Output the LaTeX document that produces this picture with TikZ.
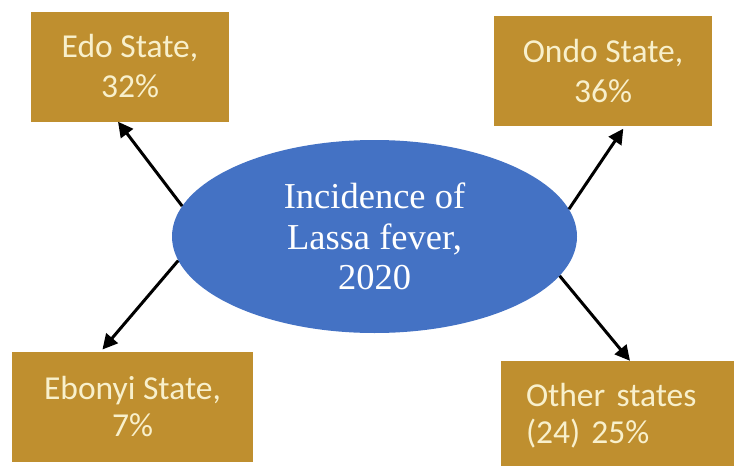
\documentclass[tikz,border=0pt]{standalone}
\usepackage{fontspec}
\setmainfont{Carlito}
\newfontfamily\ellfont{Liberation Serif}
\usetikzlibrary{arrows.meta,shapes.geometric,positioning}
\definecolor{boxgold}{HTML}{BF8F2F}
\definecolor{boxtext}{HTML}{F8F0CC}
\definecolor{ellblue}{HTML}{4472C4}

\begin{document}
\begin{tikzpicture}[x=1pt,y=-1pt,
  state/.style={rectangle,fill=boxgold,text=boxtext,align=center,inner sep=0pt,
    minimum width=#1,minimum height=110pt,font=\fontsize{33.5}{40}\selectfont},
  hub/.style={ellipse,fill=ellblue,text=white,align=center,inner sep=0pt,
    minimum width=405pt,minimum height=193pt,font=\ellfont\fontsize{36.5}{40.5}\selectfont},
  arr/.style={-{Triangle[length=15pt,width=15pt]},line width=3pt,black}]
 \useasboundingbox (0,0) rectangle (734,466);
 \clip (0,0) rectangle (734,466);
 % ---- centre ----
 \node[hub,text depth=0pt] (L) at (374.5,236.5) {Incidence of\\Lassa fever,\\2020};
 % ---- states ----
 \node[state=198pt] (edo) at (130,66.5) {Edo State,\\32\%};
 \node[state=218pt] (ondo) at (603,71) {Ondo State,\\36\%};
 \node[state=241pt,font=\fontsize{33.5}{37}\selectfont] (ebo) at (132.5,407) {Ebonyi State,\\7\%};
 \node[state=240pt,align=left,text width=190pt,inner xsep=25pt,font=\fontsize{33.5}{37}\selectfont]
   (oth) at (621,416) {Other states\\(24) 25\%};
 % ---- arrows ----
 \draw[arr] (L.171.5) -- ([xshift=-12pt]edo.south);
 \draw[arr,shorten >=3pt] (L.8.6) -- ([xshift=22pt]ondo.south);
 \draw[arr,shorten >=3pt] (L.187.6) -- ([xshift=-32pt]ebo.north);
 \draw[arr] (L.-12.2) -- ([xshift=9pt]oth.north);
\end{tikzpicture}
\end{document}
